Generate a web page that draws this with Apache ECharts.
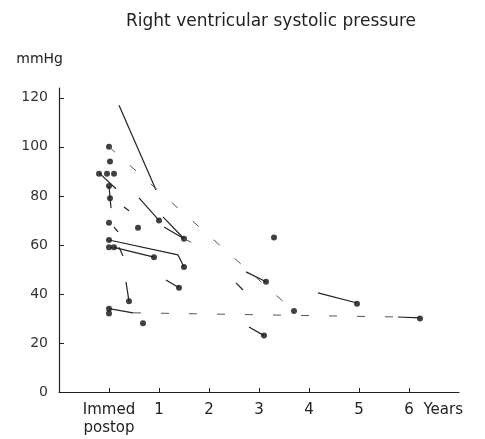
<!DOCTYPE html>
<html>
<head>
<meta charset="utf-8">
<script src="https://cdn.jsdelivr.net/npm/echarts@6/dist/echarts.min.js"></script>
<style>
  html, body { margin: 0; padding: 0; background: #fff; }
  #chart { width: 485px; height: 439px; }
</style>
</head>
<body>
<div id="chart"></div>
<script>
// axis ticks
const yTicks = [0, 20, 40, 60, 80, 100, 120];
const xTicks = [0, 1, 2, 3, 4, 5, 6];
const xTickLabels = ["Immed\npostop", "1", "2", "3", "4", "5", "6"];

// dots at the immediate postop column (years, mmHg)
const immedYears = [0, 0, 0.02, -0.2, -0.04, 0.1, 0, 0.02, 0, 0, 0, 0.1, 0, 0];
const immedValues = [129, 100, 94, 89, 89, 89, 84, 79, 69, 62, 59, 59, 34, 32];

// dots at follow-up
const followYears = [1.0, 1.5, 0.58, 0.9, 1.5, 0.4, 0.68, 1.4, 3.14, 3.3, 3.7, 4.96, 3.1, 6.22];
const followValues = [70, 62.5, 67, 55, 51, 37, 28, 42.5, 45, 63, 33, 36, 23, 30];

// visible line pieces [years, mmHg]
const traceA = [[0.2, 117], [0.94, 82.4]];
const traceC = [[0.6, 79.2], [1.0, 70]];
const traceD = [[1.08, 71.4], [1.5, 62.5]];
const traceE = [[1.1, 67.3], [1.5, 62.5]];
const traceE2 = [[2.74, 49], [3.14, 45]];
const traceF = [[0, 62], [1.38, 55.9], [1.5, 51]];
const traceG = [[0.1, 59], [0.9, 55]];
const traceH = [[1.14, 45.7], [1.4, 42.5]];
const traceK = [[0.34, 44.9], [0.4, 37]];
const traceK2 = [[0.2, 59], [0.28, 55.5]];
const traceJ = [[0.3, 75.5], [0.4, 73.9]];
const traceI = [[0.1, 67.3], [0.18, 65.3]];
const traceL = [[0, 34], [0.48, 32.3]];
const traceL2 = [[5.78, 30.6], [6.22, 30.2]];
const traceN = [[2.8, 26.5], [3.1, 23]];
const traceP = [[4.18, 40.4], [4.96, 36.3]];
const traceQ = [[-0.2, 89.4], [0.14, 82.9]];
const traceR = [[0, 84], [0.04, 75]];
const traceX = [[2.54, 44.5], [2.68, 41.6]];

// faint, broken lines
const traceB = [[0, 100], [3.7, 33]];
const traceLmid = [[0.48, 32.3], [5.78, 30.6]];
const traceEmid = [[1.5, 62.5], [1.88, 58.8]];

const solidTraces = [traceA, traceC, traceD, traceE, traceE2, traceF, traceG, traceH,
    traceK, traceK2, traceJ, traceI, traceL, traceL2, traceN, traceP, traceQ, traceR, traceX];
const dashedTraces = [traceB, traceLmid, traceEmid];

const chart = echarts.init(document.getElementById("chart"));
const font = "DejaVu Sans, Arial, sans-serif";
const ink = "#222";

const series = [];
solidTraces.forEach((t) => {
    series.push({
        type: "line",
        data: t,
        showSymbol: false,
        silent: true,
        lineStyle: { color: ink, width: 1.2 },
    });
});
dashedTraces.forEach((t) => {
    series.push({
        type: "line",
        data: t,
        showSymbol: false,
        silent: true,
        lineStyle: { color: "#555", width: 1, type: [8, 20] },
    });
});
series.push({
    type: "scatter",
    data: immedYears.map((x, i) => [x, immedValues[i]]),
    symbolSize: 6,
    itemStyle: { color: "#111" },
});
series.push({
    type: "scatter",
    data: followYears.map((x, i) => [x, followValues[i]]),
    symbolSize: 6,
    itemStyle: { color: "#111" },
});

chart.setOption({
    animation: false,
    backgroundColor: "#fff",
    title: {
        text: "Right ventricular systolic pressure",
        left: 266,
        textAlign: "center",
        top: 8,
        textStyle: { fontFamily: font, fontSize: 17, fontWeight: "normal", color: ink },
    },
    grid: { left: 59, right: 26, top: 88, bottom: 47 },
    xAxis: {
        type: "value",
        min: -1,
        max: 7,
        name: "Years",
        nameLocation: "end",
        nameGap: 0,
        nameTextStyle: {
            fontFamily: font, fontSize: 15, color: ink,
            align: "right", verticalAlign: "top", padding: [11, -4, 0, 0],
        },
        axisLine: { onZero: false, lineStyle: { color: ink, width: 1.2 } },
        axisTick: { inside: true, length: 4, customValues: xTicks, lineStyle: { color: ink } },
        axisLabel: {
            customValues: xTicks,
            formatter: (v) => xTickLabels[xTicks.indexOf(v)] || "",
            fontFamily: font, fontSize: 15, color: ink, margin: 9, lineHeight: 18,
        },
        splitLine: { show: false },
    },
    yAxis: {
        type: "value",
        min: 0,
        max: 124,
        name: "mmHg",
        nameLocation: "end",
        nameGap: 22,
        nameTextStyle: { fontFamily: font, fontSize: 14, color: ink, align: "right", padding: [0, -4, 0, 0] },
        axisLine: { show: true, onZero: false, lineStyle: { color: ink, width: 1.2 } },
        axisTick: { show: true, inside: true, length: 5, customValues: yTicks, lineStyle: { color: ink } },
        axisLabel: {
            customValues: yTicks,
            fontFamily: font, fontSize: 14, color: "#333", margin: 11,
        },
        splitLine: { show: false },
    },
    series: series,
});
</script>
</body>
</html>
